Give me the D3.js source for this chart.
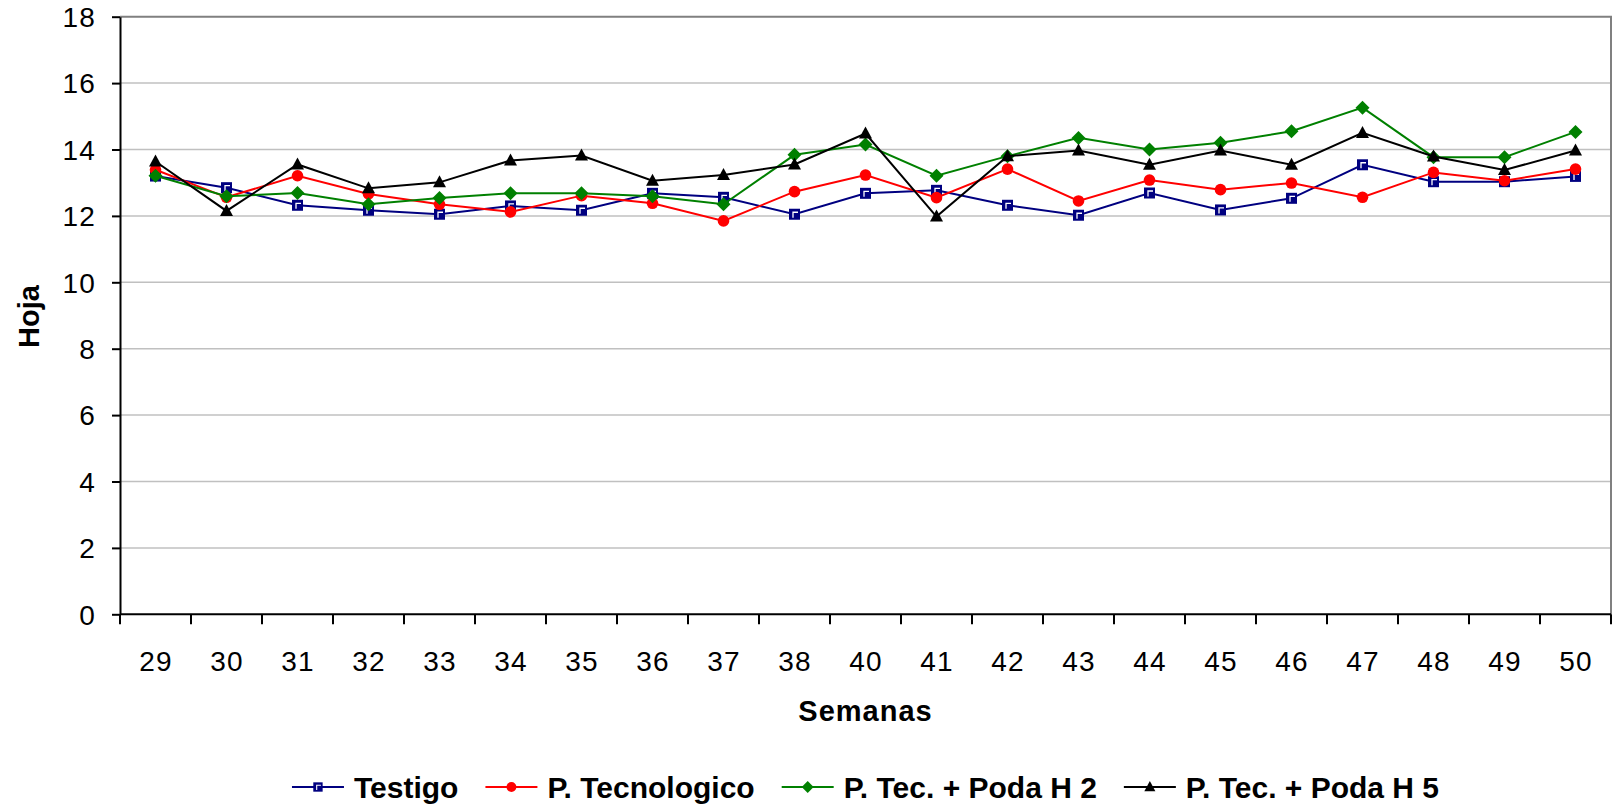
<!DOCTYPE html>
<html>
<head>
<meta charset="utf-8">
<script src="https://cdn.jsdelivr.net/npm/d3@7"></script>
<style>
  html, body { margin: 0; padding: 0; background: #fff; }
  svg { display: block; font-family: Arial, "Liberation Sans", sans-serif; }
</style>
</head>
<body>
<svg id="chart" width="1616" height="804"></svg>
<script>
// Week labels along the x axis
const semanas = ["29","30","31","32","33","34","35","36","37","38","40","41","42","43","44","45","46","47","48","49","50"];
// Leaf counts per treatment
const testigo     = [13.2,12.85,12.32,12.17,12.05,12.3,12.17,12.68,12.56,12.05,12.68,12.77,12.32,12.02,12.69,12.18,12.53,13.54,13.03,13.03,13.19];
const tecnologico = [13.39,12.56,13.21,12.66,12.35,12.12,12.61,12.38,11.85,12.73,13.23,12.55,13.41,12.45,13.08,12.79,12.99,12.56,13.31,13.06,13.41];
const podaH2      = [13.21,12.59,12.69,12.35,12.54,12.68,12.68,12.59,12.35,13.84,14.15,13.21,13.8,14.35,14.0,14.2,14.55,15.26,13.77,13.77,14.53];
const podaH5      = [13.64,12.15,13.55,12.83,13.01,13.67,13.82,13.06,13.23,13.55,14.48,11.98,13.8,13.97,13.54,13.97,13.54,14.5,13.79,13.38,13.97];
const yTicks = [0,2,4,6,8,10,12,14,16,18];
const seriesNames = ["Testigo","P. Tecnologico","P. Tec. + Poda H 2","P. Tec. + Poda H 5"];

const series = [
  { name: seriesNames[0], values: testigo,     color: "#000080", marker: "square" },
  { name: seriesNames[1], values: tecnologico, color: "#ff0000", marker: "circle" },
  { name: seriesNames[2], values: podaH2,      color: "#008000", marker: "diamond" },
  { name: seriesNames[3], values: podaH5,      color: "#000000", marker: "triangle" }
];

const svg = d3.select("#chart");
const plot = { left: 120, right: 1611, top: 16.7, bottom: 614.3 };

const x = d3.scaleBand().domain(semanas).range([plot.left, plot.right]);
const y = d3.scaleLinear().domain([0, 18]).range([plot.bottom, plot.top]);

// Horizontal gridlines
svg.append("g").selectAll("line")
  .data(yTicks.filter(t => t > 0 && t < 18))
  .join("line")
  .attr("x1", plot.left).attr("x2", plot.right)
  .attr("y1", d => y(d)).attr("y2", d => y(d))
  .attr("stroke", "#c0c0c0").attr("stroke-width", 1.5);

// Plot border (top and right)
svg.append("path")
  .attr("d", `M${plot.left},${y(18)}H${plot.right}V${plot.bottom}`)
  .attr("fill", "none").attr("stroke", "#808080").attr("stroke-width", 2);

// Y axis
const yAxis = d3.axisLeft(y).tickValues(yTicks).tickSize(8).tickPadding(16).tickSizeOuter(0);
const gy = svg.append("g").attr("transform", `translate(${plot.left},0)`).call(yAxis);
gy.select(".domain").attr("stroke", "#000").attr("stroke-width", 2);
gy.selectAll(".tick line").attr("stroke", "#000").attr("stroke-width", 2);
gy.selectAll(".tick text")
  .attr("font-size", 28).attr("fill", "#000").attr("letter-spacing", 1.2)
  .attr("font-family", "Arial, 'Liberation Sans', sans-serif")
  .attr("dy", "0.35em");

// X axis: ticks sit between categories
const gx = svg.append("g").attr("transform", `translate(0,${plot.bottom})`);
gx.append("line").attr("x1", plot.left).attr("x2", plot.right)
  .attr("stroke", "#000").attr("stroke-width", 2);
const boundaries = semanas.map(d => x(d)).concat([plot.right]);
gx.selectAll("line.tk").data(boundaries).join("line").attr("class", "tk")
  .attr("x1", d => d).attr("x2", d => d).attr("y1", 0).attr("y2", 10)
  .attr("stroke", "#000").attr("stroke-width", 2);
gx.selectAll("text").data(semanas).join("text")
  .attr("x", d => x(d) + x.bandwidth() / 2 + 0.6).attr("y", 56.5)
  .attr("text-anchor", "middle").attr("font-size", 28).attr("fill", "#000")
  .attr("letter-spacing", 1.2)
  .text(d => d);

// Axis titles
svg.append("text").attr("x", 865.5).attr("y", 721)
  .attr("text-anchor", "middle").attr("font-size", 29).attr("font-weight", "bold")
  .attr("letter-spacing", 1)
  .text("Semanas");
svg.append("text")
  .attr("transform", "translate(39,316.5) rotate(-90)")
  .attr("text-anchor", "middle").attr("font-size", 29).attr("font-weight", "bold")
  .text("Hoja");

// Marker drawing
function drawMarker(g, type, color) {
  if (type === "square") {
    g.append("rect").attr("x", -5.5).attr("y", -5.5).attr("width", 11).attr("height", 11)
      .attr("fill", color);
    g.append("path").attr("d", "M-1.5,3.5V-2H3.5").attr("fill", "none")
      .attr("stroke", "#fff").attr("stroke-width", 1.3);
  } else if (type === "circle") {
    g.append("circle").attr("r", 5.8).attr("fill", color);
  } else if (type === "diamond") {
    g.append("path").attr("d", "M0,-7L7,0L0,7L-7,0Z").attr("fill", color);
  } else if (type === "triangle") {
    g.append("path").attr("d", "M0,-7L6.5,5L-6.5,5Z").attr("fill", color);
  }
}

const line = d3.line()
  .x((d, i) => x(semanas[i]) + x.bandwidth() / 2)
  .y(d => y(d));

series.forEach(s => {
  const g = svg.append("g");
  g.append("path").datum(s.values).attr("d", line)
    .attr("fill", "none").attr("stroke", s.color).attr("stroke-width", 2);
  s.values.forEach((v, i) => {
    const m = g.append("g")
      .attr("transform", `translate(${x(semanas[i]) + x.bandwidth() / 2},${y(v)})`);
    drawMarker(m, s.marker, s.color);
  });
});

// Legend
const legend = svg.append("g");
const lineLen = 52, gapText = 10, gapItem = 27, legY = 787;
let cursor = 0;
series.forEach(s => {
  const it = legend.append("g").attr("transform", `translate(${cursor},0)`);
  it.append("line").attr("x1", 0).attr("x2", lineLen).attr("y1", legY).attr("y2", legY)
    .attr("stroke", s.color).attr("stroke-width", 2);
  const mk = it.append("g");
  drawMarker(mk, s.marker, s.color);
  mk.attr("transform", `translate(${lineLen / 2},${legY}) scale(0.85)`);
  const t = it.append("text").attr("x", lineLen + gapText).attr("y", legY + 10.5)
    .attr("font-size", 30).attr("font-weight", "bold").attr("fill", "#000")
    .text(s.name);
  const w = t.node().getComputedTextLength();
  cursor += lineLen + gapText + w + gapItem;
});
const totalW = cursor - gapItem;
legend.attr("transform", `translate(${865.5 - totalW / 2},0)`);
</script>
</body>
</html>
